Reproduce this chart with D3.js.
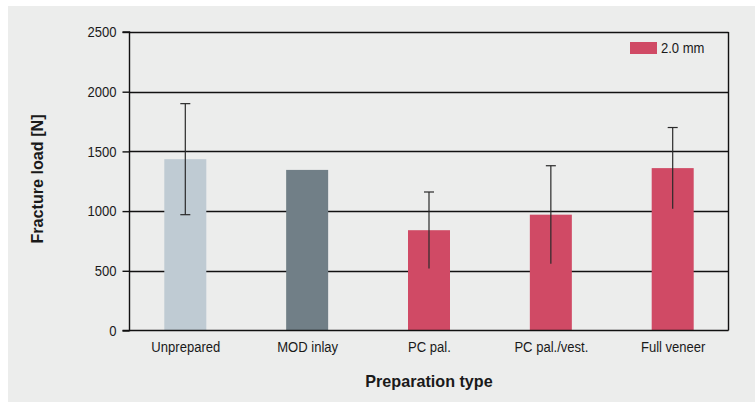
<!DOCTYPE html>
<html>
<head>
<meta charset="utf-8">
<script src="https://cdn.jsdelivr.net/npm/d3@7"></script>
<style>
  html, body { margin: 0; padding: 0; background: #ffffff; }
  svg { display: block; }
  text { font-family: "Liberation Sans", Arial, sans-serif; fill: #1a1a1a; }
  .nc { transform-box: fill-box; transform-origin: 50% 50%; transform: scaleX(0.87); }
  .nr { transform-box: fill-box; transform-origin: 100% 50%; transform: scaleX(0.87); }
  .nl { transform-box: fill-box; transform-origin: 0% 50%; transform: scaleX(0.87); }
  .bc { transform-box: fill-box; transform-origin: 50% 50%; transform: scaleX(0.95); }
</style>
</head>
<body>
<svg id="chart" width="755" height="402"></svg>
<script>
const categories = ["Unprepared", "MOD inlay", "PC pal.", "PC pal./vest.", "Full veneer"];
const values = [1435, 1345, 840, 970, 1360];
const errors = [465, null, 320, 410, 340];
const barColors = ["#bfcbd3", "#717f87", "#d04a65", "#d04a65", "#d04a65"];
const yTicks = [0, 500, 1000, 1500, 2000, 2500];
const legendLabel = "2.0 mm";
const legendColor = "#d04a65";
const yTitle = "Fracture load [N]";
const xTitle = "Preparation type";

(function () {
const svg = d3.select("#chart");
svg.append("rect").attr("x", 8).attr("y", 6).attr("width", 747).attr("height", 396).attr("fill", "#ecedec");

const pL = 129.5, pR = 728.5, pT = 32, pB = 330.5;
const x = d3.scalePoint().domain(categories).range([pL, pR]).padding(0.458);
const y = d3.scaleLinear().domain([0, 2500]).range([pB, pT]);
const barW = 42;

// gridlines
svg.append("g").selectAll("line").data(yTicks.filter(d => d > 0)).join("line")
  .attr("x1", pL).attr("x2", pR)
  .attr("y1", d => Math.round(y(d)) + 0.5).attr("y2", d => Math.round(y(d)) + 0.5)
  .attr("stroke", "#111").attr("stroke-width", 1.4);

// right border
svg.append("line").attr("x1", pR).attr("x2", pR).attr("y1", y(2500)).attr("y2", y(0))
  .attr("stroke", "#111").attr("stroke-width", 1.4);

// bars
svg.append("g").selectAll("rect").data(categories).join("rect")
  .attr("x", d => x(d) - barW / 2)
  .attr("y", (d, i) => y(values[i]))
  .attr("width", barW)
  .attr("height", (d, i) => y(0) - y(values[i]))
  .attr("fill", (d, i) => barColors[i]);

// error bars
const eg = svg.append("g").attr("stroke", "#2a2a2a").attr("stroke-width", 1.2);
categories.forEach((c, i) => {
  if (errors[i] == null) return;
  const cx = x(c);
  eg.append("line").attr("x1", cx).attr("x2", cx).attr("y1", y(values[i] + errors[i])).attr("y2", y(values[i] - errors[i]));
  eg.append("line").attr("x1", cx - 5).attr("x2", cx + 5).attr("y1", y(values[i] + errors[i])).attr("y2", y(values[i] + errors[i]));
  if (i === 0) eg.append("line").attr("x1", cx - 5).attr("x2", cx + 5).attr("y1", y(values[i] - errors[i])).attr("y2", y(values[i] - errors[i]));
});

// y axis
const yAxis = d3.axisLeft(y).tickValues(yTicks).tickSize(7).tickPadding(6).tickFormat(d3.format("d"));
const yg = svg.append("g").attr("transform", `translate(${pL},0)`).call(yAxis);
yg.select(".domain").attr("stroke", "#111").attr("stroke-width", 1.4).attr("d", `M-7,${pT}H0V${pB}H-7`);
yg.selectAll(".tick line").attr("stroke", "#111").attr("stroke-width", 1.4);
yg.selectAll(".tick text").attr("class", "nr").style("font-size", "15px").attr("fill", "#1a1a1a")
  .style("font-family", '"Liberation Sans", Arial, sans-serif');

// x axis
const xAxis = d3.axisBottom(x).tickSize(0).tickPadding(11);
const xg = svg.append("g").attr("transform", `translate(0,${pB})`).call(xAxis);
xg.select(".domain").attr("stroke", "#111").attr("stroke-width", 1.4).attr("d", `M${pL},0H${pR}`);
xg.selectAll(".tick text").attr("class", "nc").style("font-size", "15px").attr("fill", "#1a1a1a")
  .style("font-family", '"Liberation Sans", Arial, sans-serif');

// axis titles
svg.append("g").attr("transform", "translate(43,179) rotate(-90)")
  .append("text").attr("class", "bc")
  .attr("text-anchor", "middle").style("font-size", "17px").style("font-weight", "bold").text(yTitle);
svg.append("text").attr("class", "bc").attr("x", 429).attr("y", 387)
  .attr("text-anchor", "middle").style("font-size", "17px").style("font-weight", "bold").text(xTitle);

// legend
svg.append("rect").attr("x", 630).attr("y", 42).attr("width", 27).attr("height", 12).attr("fill", legendColor);
svg.append("text").attr("class", "nl").attr("x", 661).attr("y", 53).style("font-size", "15px").text(legendLabel);
})();
</script>
</body>
</html>
